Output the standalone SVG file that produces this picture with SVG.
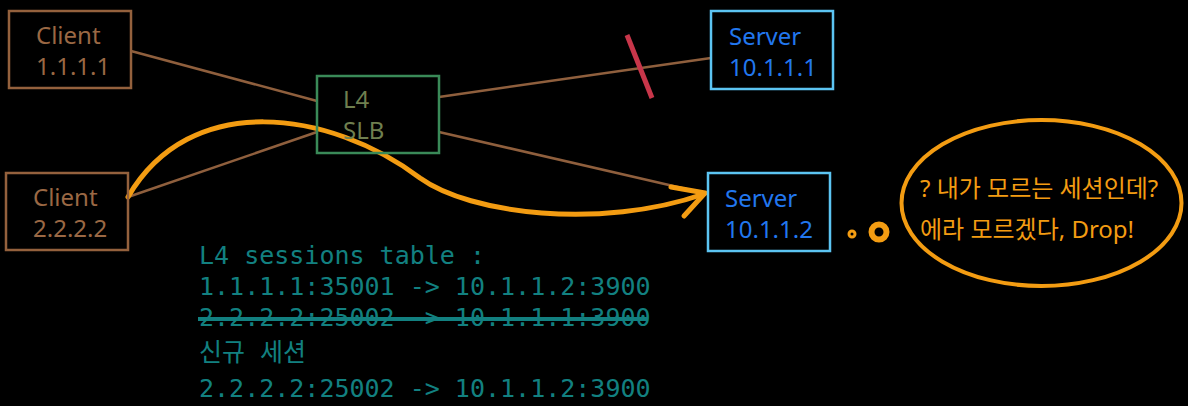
<svg xmlns="http://www.w3.org/2000/svg" width="1188" height="406" viewBox="0 0 1188 406">
<style>
.bg{fill:#000}
.box{fill:none;stroke-width:2.5}
.client{stroke:#94613d}
.slb{stroke:#3a8a58}
.server{stroke:#5cc4f2}
.lbl{font-family:"Noto Sans","Liberation Sans","Noto Sans CJK KR",sans-serif;font-size:24px}
.tc{fill:#9a6844}
.ts{fill:#2277ee}
.tl{fill:#6f7f4f}
.conn{stroke:#8f5f3d;stroke-width:2.5;fill:none}
.orange{stroke:#f39c12;fill:none;stroke-linecap:round;stroke-linejoin:round}
.mono{font-family:"DejaVu Sans Mono","Noto Sans CJK KR",monospace;font-size:25px;fill:#128080}
.bub{font-family:"Noto Sans","Noto Sans CJK KR",sans-serif;font-size:24px;fill:#f39c12}
</style>
<rect class="bg" x="0" y="0" width="1188" height="406"/>
<g id="connectors">
<line class="conn" x1="131" y1="51" x2="317" y2="101"/>
<line class="conn" x1="128" y1="197" x2="317" y2="132"/>
<line class="conn" x1="439" y1="97" x2="711" y2="58"/>
<line class="conn" x1="439" y1="132" x2="708" y2="194"/>
<line x1="627" y1="35" x2="652" y2="98" stroke="#c8364a" stroke-width="5"/>
<path class="orange" stroke-width="5" d="M128,197 C190,90 330,110 420,178 C470,214 600,230 704,194"/>
<path class="orange" stroke-width="5" d="M671,187 L705,193 L684,216"/>
</g>
<g id="client1">
<rect class="box client" x="9" y="11" width="122" height="77"/>
<text class="lbl tc" x="36" y="44">Client</text>
<text class="lbl tc" x="36" y="75">1.1.1.1</text>
</g>
<g id="client2">
<rect class="box client" x="6" y="173" width="122" height="77"/>
<text class="lbl tc" x="33" y="206">Client</text>
<text class="lbl tc" x="33" y="237">2.2.2.2</text>
</g>
<g id="slb">
<rect class="box slb" x="317" y="76" width="122" height="77"/>
<text class="lbl tl" x="343" y="108">L4</text>
<text class="lbl tl" x="343" y="139">SLB</text>
</g>
<g id="server1">
<rect class="box server" x="711" y="11" width="122" height="78"/>
<text class="lbl ts" x="729" y="45">Server</text>
<text class="lbl ts" x="729" y="76">10.1.1.1</text>
</g>
<g id="server2">
<rect class="box server" x="708" y="173" width="122" height="78"/>
<text class="lbl ts" x="725" y="207">Server</text>
<text class="lbl ts" x="725" y="238">10.1.1.2</text>
</g>
<g id="sessions">
<text class="mono" x="199" y="264">L4 sessions table :</text>
<text class="mono" x="199" y="295">1.1.1.1:35001 -&gt; 10.1.1.2:3900</text>
<text class="mono" x="199" y="326">2.2.2.2:25002 -&gt; 10.1.1.1:3900</text>
<line x1="198" y1="319" x2="648" y2="319" stroke="#128080" stroke-width="4"/>
<text class="mono" x="199" y="361">신규 세션</text>
<text class="mono" x="199" y="397">2.2.2.2:25002 -&gt; 10.1.1.2:3900</text>
</g>
<g id="bubble">
<circle class="orange" cx="852" cy="234" r="3" stroke-width="3"/>
<circle class="orange" cx="879" cy="232" r="7.5" stroke-width="6"/>
<ellipse class="orange" cx="1041.5" cy="203" rx="140" ry="83" stroke-width="4"/>
<text class="bub" x="920" y="197">? 내가 모르는 세션인데?</text>
<text class="bub" x="920" y="238">에라 모르겠다, Drop!</text>
</g>
</svg>
